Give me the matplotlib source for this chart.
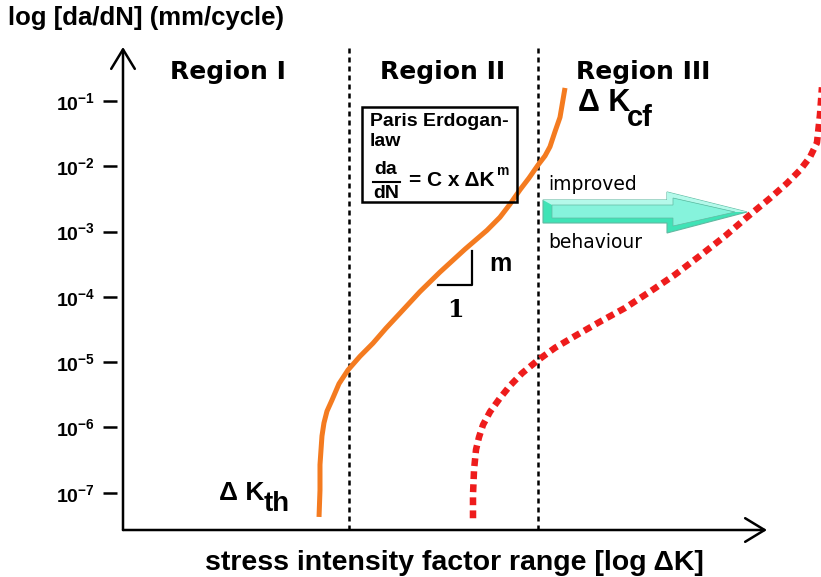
import matplotlib
matplotlib.use("Agg")
import matplotlib.pyplot as plt
from matplotlib.patches import Rectangle, Polygon
from matplotlib.transforms import blended_transform_factory
import numpy as np

plt.rcParams['font.family'] = ['Liberation Sans', 'DejaVu Sans']
plt.rcParams['mathtext.fontset'] = 'custom'
plt.rcParams['mathtext.rm'] = 'Liberation Sans:bold'
plt.rcParams['mathtext.bf'] = 'Liberation Sans:bold'
plt.rcParams['mathtext.default'] = 'rm'

# data (x = log dK in arbitrary units, y = log10 da/dN)
tick_exp = [-1, -2, -3, -4, -5, -6, -7]
tick_labels = ['$10^{-1}$', '$10^{-2}$', '$10^{-3}$', '$10^{-4}$', '$10^{-5}$', '$10^{-6}$', '$10^{-7}$']

base_logK = [3.053, 3.068, 3.068, 3.084, 3.099, 3.130, 3.177, 3.255, 3.364, 3.504, 3.691, 3.893, 4.096, 4.314,
             4.625, 4.937, 5.326, 5.669, 5.871, 6.027, 6.183, 6.323, 6.464, 6.573, 6.650, 6.728, 6.806, 6.884]
base_logdadn = [-7.37, -6.96, -6.57, -6.34, -6.13, -5.93, -5.75, -5.58, -5.33, -5.12, -4.91, -4.71, -4.48, -4.25,
                -3.92, -3.62, -3.27, -2.98, -2.78, -2.58, -2.36, -2.18, -1.98, -1.84, -1.70, -1.47, -1.25, -0.80]

impr_logK = [5.451, 5.451, 5.467, 5.498, 5.544, 5.607, 5.716, 5.871, 6.027, 6.214, 6.448, 6.728, 7.039, 7.429,
             7.818, 8.207, 8.597, 8.986, 9.375, 9.718, 10.076, 10.341, 10.543, 10.699, 10.808, 10.855, 10.886]
impr_logdadn = [-7.39, -7.03, -6.65, -6.34, -6.15, -5.96, -5.76, -5.55, -5.36, -5.17, -4.98, -4.78, -4.60, -4.38,
                -4.17, -3.92, -3.66, -3.37, -3.07, -2.78, -2.49, -2.26, -2.06, -1.86, -1.64, -1.21, -0.79]

region_bounds = [3.52, 6.46]

W, H = 821, 577


def fx(x):
    return x / W


def fy(y):
    return 1 - y / H


fig = plt.figure(figsize=(8.21, 5.77), dpi=100)
ax = fig.add_axes([fx(123), fy(530), fx(767) - fx(123), fy(47) - fy(530)])
ax.set_yscale('log')
ax.set_xlim(0, 10.03)
ax.set_ylim(10 ** -7.57, 10 ** -0.173)
for s in ax.spines.values():
    s.set_visible(False)
ax.set_xticks([])
ax.set_yticks([10.0 ** e for e in tick_exp])
ax.set_yticklabels(tick_labels)
ax.yaxis.set_minor_locator(matplotlib.ticker.NullLocator())
ax.tick_params(axis='y', length=0, pad=20, labelsize=14)

# tick dashes with a gap from the axis
tr = blended_transform_factory(ax.transAxes, ax.transData)
for e in tick_exp:
    ax.plot([-0.031, -0.009], [10.0 ** e] * 2, color='black', lw=1.8, transform=tr, clip_on=False,
            solid_capstyle='butt')

# axes with open arrowheads
arrow = dict(arrowstyle='->,head_length=1.4,head_width=0.85', lw=1.8, color='black',
             shrinkA=0, shrinkB=0, mutation_scale=10)
ax.annotate('', xy=(0, 1), xytext=(0, 0), xycoords='axes fraction', arrowprops=arrow)
ax.annotate('', xy=(1, 0), xytext=(0, 0), xycoords='axes fraction', arrowprops=arrow)

# region boundaries
for b in region_bounds:
    ax.plot([b, b], [10 ** -7.57, 10 ** -0.12], color='black', lw=1.8,
            linestyle=(0, (2.0, 1.6)), clip_on=False)

# curves
ax.plot(base_logK, 10.0 ** np.array(base_logdadn), color='#F47B20', lw=3.6,
        solid_capstyle='butt', solid_joinstyle='round')
ax.plot(impr_logK, 10.0 ** np.array(impr_logdadn), color='#EE1C1C', lw=4.7,
        linestyle=(0, (1.2, 0.8)), clip_on=False)

# texts
fig.text(fx(8), fy(18), 'log [da/dN] (mm/cycle)', fontsize=18.5, fontweight='bold', va='center', ha='left')
fig.text(fx(454), fy(563), 'stress intensity factor range [log ΔK]', fontsize=20.5, fontweight='bold',
         va='center', ha='center')

reg_font = dict(family='DejaVu Sans', fontsize=18, fontweight='bold', va='center', ha='center')
fig.text(fx(228), fy(72), 'Region I', **reg_font)
fig.text(fx(443), fy(72), 'Region II', **reg_font)
fig.text(fx(643), fy(72), 'Region III', **reg_font)

fig.text(fx(578), fy(103), 'Δ K', fontsize=22, fontweight='bold', va='center', ha='left')
fig.text(fx(627), fy(118), 'cf', fontsize=21, fontweight='bold', va='center', ha='left')
fig.text(fx(219), fy(493), 'Δ K', fontsize=19, fontweight='bold', va='center', ha='left')
fig.text(fx(264), fy(504), 'th', fontsize=20, fontweight='bold', va='center', ha='left')

# Paris law box
fig.add_artist(Rectangle((fx(362), fy(202)), fx(517) - fx(362), fy(107) - fy(202),
                         transform=fig.transFigure, fill=False, lw=1.8, ec='black'))
fig.text(fx(370), fy(122), 'Paris Erdogan-', fontsize=14, fontweight='bold', va='center', ha='left')
fig.text(fx(370), fy(142), 'law', fontsize=14, fontweight='bold', va='center', ha='left')
fig.text(fx(386), fy(170), 'da', fontsize=14, fontweight='bold', va='center', ha='center')
fig.add_artist(plt.Line2D([fx(373), fx(400)], [fy(182), fy(182)], transform=fig.transFigure,
                          color='black', lw=1.5))
fig.text(fx(386), fy(193), 'dN', fontsize=14, fontweight='bold', va='center', ha='center')
fig.text(fx(409), fy(180), '= C x ΔK', fontsize=15, fontweight='bold', va='center', ha='left')
fig.text(fx(497), fy(171), 'm', fontsize=10, fontweight='bold', va='center', ha='left')

# slope triangle
fig.add_artist(plt.Line2D([fx(438), fx(472), fx(472)], [fy(285), fy(285), fy(251)],
                          transform=fig.transFigure, color='black', lw=1.6))
fig.text(fx(489), fy(264), 'm', fontsize=18, fontweight='bold', va='center', ha='left')
fig.text(fx(455), fy(310), '1', family='DejaVu Serif', fontsize=17, fontweight='bold', va='center', ha='center')

# improved behaviour arrow
fig.text(fx(548), fy(185), 'improved', family='DejaVu Sans', fontsize=13.5, va='center', ha='left')
fig.text(fx(548), fy(242), 'behaviour', family='DejaVu Sans', fontsize=13.5, va='center', ha='left')


def poly(pts, **kw):
    fig.add_artist(Polygon([(fx(a), fy(b)) for a, b in pts], closed=True,
                           transform=fig.transFigure, **kw))


poly([(543, 200), (667, 200), (667, 192), (747, 212), (667, 233), (667, 223), (543, 223)],
     fc='#3fe3b6', ec='#62b9a2', lw=0.8)
poly([(543, 200), (667, 200), (667, 192), (747, 212), (735, 212), (673, 198), (673, 205), (552, 205)],
     fc='#b4f9ea', ec='none')
poly([(552, 205), (673, 205), (673, 198), (735, 212), (673, 226), (673, 218), (552, 218)],
     fc='#86f3dc', ec='#62b9a2', lw=0.5)

fig.savefig('out.png', dpi=100)
